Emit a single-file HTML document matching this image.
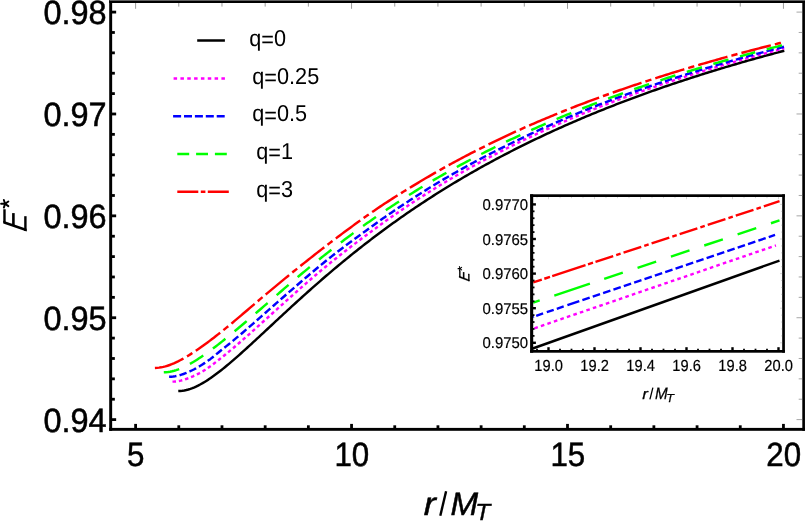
<!DOCTYPE html>
<html><head><meta charset="utf-8"><title>E* vs r/M_T</title>
<style>
html,body{margin:0;padding:0;background:#ffffff;}
body{width:806px;height:521px;overflow:hidden;position:relative;font-family:"Liberation Sans",sans-serif;}
</style></head>
<body>
<svg width="806" height="521" viewBox="0 0 806 521" text-rendering="geometricPrecision" style="position:absolute;left:0;top:0;display:block;will-change:transform">
<rect x="0" y="0" width="806" height="521" fill="#ffffff"/>
<g fill="none" stroke-width="2.45" stroke-linecap="butt" stroke-linejoin="round">
<path d="M178.27 390.98 L180.30 390.94 L182.33 390.77 L184.35 390.46 L186.38 390.04 L188.41 389.50 L190.43 388.85 L192.46 388.11 L194.49 387.28 L196.51 386.36 L198.54 385.36 L200.57 384.29 L202.59 383.15 L204.62 381.94 L206.65 380.68 L208.68 379.36 L210.70 377.98 L212.73 376.56 L214.76 375.10 L216.78 373.59 L218.81 372.05 L220.84 370.47 L222.86 368.86 L224.89 367.22 L226.92 365.55 L228.94 363.86 L230.97 362.14 L233.00 360.40 L235.02 358.64 L237.05 356.86 L239.08 355.07 L241.11 353.26 L243.13 351.44 L245.16 349.61 L247.19 347.77 L249.21 345.92 L251.24 344.06 L253.27 342.19 L255.29 340.32 L257.32 338.44 L259.35 336.56 L261.37 334.68 L263.40 332.79 L265.43 330.90 L267.46 329.01 L269.48 327.12 L271.51 325.23 L273.54 323.34 L275.56 321.45 L277.59 319.56 L279.62 317.68 L281.64 315.80 L283.67 313.92 L285.70 312.05 L287.72 310.18 L289.75 308.31 L291.78 306.45 L293.80 304.60 L295.83 302.75 L297.86 300.90 L299.89 299.06 L301.91 297.23 L303.94 295.41 L305.97 293.59 L307.99 291.78 L310.02 289.97 L312.05 288.17 L314.07 286.38 L316.10 284.60 L318.13 282.82 L320.15 281.06 L322.18 279.30 L324.21 277.55 L326.24 275.80 L328.26 274.07 L330.29 272.34 L332.32 270.62 L334.34 268.91 L336.37 267.21 L338.40 265.52 L340.42 263.83 L342.45 262.15 L344.48 260.49 L346.50 258.83 L348.53 257.18 L350.56 255.54 L352.58 253.90 L354.61 252.28 L356.64 250.67 L358.67 249.06 L360.69 247.46 L362.72 245.87 L364.75 244.29 L366.77 242.72 L368.80 241.16 L370.83 239.61 L372.85 238.06 L374.88 236.52 L376.91 235.00 L378.93 233.48 L380.96 231.97 L382.99 230.47 L385.02 228.97 L387.04 227.49 L389.07 226.01 L391.10 224.55 L393.12 223.09 L395.15 221.64 L397.18 220.20 L399.20 218.76 L401.23 217.34 L403.26 215.92 L405.28 214.51 L407.31 213.11 L409.34 211.72 L411.36 210.33 L413.39 208.96 L415.42 207.59 L417.45 206.23 L419.47 204.88 L421.50 203.53 L423.53 202.20 L425.55 200.87 L427.58 199.55 L429.61 198.23 L431.63 196.93 L433.66 195.63 L435.69 194.34 L437.71 193.06 L439.74 191.78 L441.77 190.52 L443.80 189.26 L445.82 188.00 L447.85 186.76 L449.88 185.52 L451.90 184.29 L453.93 183.07 L455.96 181.85 L457.98 180.64 L460.01 179.44 L462.04 178.24 L464.06 177.05 L466.09 175.87 L468.12 174.70 L470.14 173.53 L472.17 172.37 L474.20 171.21 L476.23 170.06 L478.25 168.92 L480.28 167.79 L482.31 166.66 L484.33 165.54 L486.36 164.42 L488.39 163.31 L490.41 162.21 L492.44 161.11 L494.47 160.02 L496.49 158.94 L498.52 157.86 L500.55 156.79 L502.58 155.72 L504.60 154.66 L506.63 153.61 L508.66 152.56 L510.68 151.52 L512.71 150.48 L514.74 149.45 L516.76 148.43 L518.79 147.41 L520.82 146.40 L522.84 145.39 L524.87 144.39 L526.90 143.39 L528.92 142.40 L530.95 141.41 L532.98 140.43 L535.01 139.46 L537.03 138.49 L539.06 137.53 L541.09 136.57 L543.11 135.62 L545.14 134.67 L547.17 133.72 L549.19 132.79 L551.22 131.85 L553.25 130.93 L555.27 130.00 L557.30 129.09 L559.33 128.17 L561.36 127.26 L563.38 126.36 L565.41 125.46 L567.44 124.57 L569.46 123.68 L571.49 122.80 L573.52 121.92 L575.54 121.04 L577.57 120.17 L579.60 119.31 L581.62 118.45 L583.65 117.59 L585.68 116.74 L587.70 115.89 L589.73 115.05 L591.76 114.21 L593.79 113.38 L595.81 112.55 L597.84 111.72 L599.87 110.90 L601.89 110.08 L603.92 109.27 L605.95 108.46 L607.97 107.66 L610.00 106.86 L612.03 106.06 L614.05 105.27 L616.08 104.48 L618.11 103.70 L620.14 102.92 L622.16 102.14 L624.19 101.37 L626.22 100.60 L628.24 99.83 L630.27 99.07 L632.30 98.32 L634.32 97.56 L636.35 96.81 L638.38 96.07 L640.40 95.33 L642.43 94.59 L644.46 93.85 L646.48 93.12 L648.51 92.40 L650.54 91.67 L652.57 90.95 L654.59 90.24 L656.62 89.52 L658.65 88.81 L660.67 88.11 L662.70 87.40 L664.73 86.70 L666.75 86.01 L668.78 85.32 L670.81 84.63 L672.83 83.94 L674.86 83.26 L676.89 82.58 L678.92 81.90 L680.94 81.23 L682.97 80.56 L685.00 79.89 L687.02 79.23 L689.05 78.57 L691.08 77.91 L693.10 77.26 L695.13 76.61 L697.16 75.96 L699.18 75.31 L701.21 74.67 L703.24 74.03 L705.26 73.40 L707.29 72.76 L709.32 72.13 L711.35 71.51 L713.37 70.88 L715.40 70.26 L717.43 69.64 L719.45 69.03 L721.48 68.41 L723.51 67.80 L725.53 67.20 L727.56 66.59 L729.59 65.99 L731.61 65.39 L733.64 64.79 L735.67 64.20 L737.70 63.61 L739.72 63.02 L741.75 62.44 L743.78 61.85 L745.80 61.27 L747.83 60.69 L749.86 60.12 L751.88 59.55 L753.91 58.98 L755.94 58.41 L757.96 57.84 L759.99 57.28 L762.02 56.72 L764.04 56.16 L766.07 55.61 L768.10 55.05 L770.13 54.50 L772.15 53.96 L774.18 53.41 L776.21 52.87 L778.23 52.33 L780.26 51.79 L782.29 51.25 L784.31 50.72" stroke="#000000"/>
<path d="M172.50 381.63 L174.55 381.57 L176.59 381.37 L178.64 381.06 L180.68 380.64 L182.73 380.11 L184.78 379.49 L186.82 378.77 L188.87 377.99 L190.92 377.16 L192.96 376.29 L195.01 375.36 L197.05 374.38 L199.10 373.33 L201.15 372.21 L203.19 371.02 L205.24 369.74 L207.29 368.39 L209.33 366.97 L211.38 365.49 L213.42 363.97 L215.47 362.40 L217.52 360.81 L219.56 359.20 L221.61 357.58 L223.66 355.95 L225.70 354.30 L227.75 352.62 L229.79 350.93 L231.84 349.22 L233.89 347.49 L235.93 345.75 L237.98 344.00 L240.02 342.23 L242.07 340.45 L244.12 338.66 L246.16 336.87 L248.21 335.06 L250.26 333.25 L252.30 331.43 L254.35 329.60 L256.39 327.77 L258.44 325.94 L260.49 324.10 L262.53 322.26 L264.58 320.41 L266.63 318.57 L268.67 316.72 L270.72 314.87 L272.76 313.02 L274.81 311.18 L276.86 309.33 L278.90 307.48 L280.95 305.64 L282.99 303.80 L285.04 301.96 L287.09 300.12 L289.13 298.29 L291.18 296.47 L293.23 294.65 L295.27 292.83 L297.32 291.02 L299.36 289.21 L301.41 287.41 L303.46 285.62 L305.50 283.84 L307.55 282.06 L309.60 280.29 L311.64 278.53 L313.69 276.77 L315.73 275.03 L317.78 273.29 L319.83 271.56 L321.87 269.84 L323.92 268.13 L325.96 266.44 L328.01 264.76 L330.06 263.09 L332.10 261.44 L334.15 259.80 L336.20 258.17 L338.24 256.55 L340.29 254.94 L342.33 253.34 L344.38 251.74 L346.43 250.16 L348.47 248.59 L350.52 247.02 L352.57 245.46 L354.61 243.90 L356.66 242.36 L358.70 240.81 L360.75 239.28 L362.80 237.74 L364.84 236.21 L366.89 234.69 L368.94 233.16 L370.98 231.65 L373.03 230.14 L375.07 228.64 L377.12 227.15 L379.17 225.67 L381.21 224.19 L383.26 222.73 L385.30 221.27 L387.35 219.82 L389.40 218.38 L391.44 216.95 L393.49 215.53 L395.54 214.12 L397.58 212.71 L399.63 211.31 L401.67 209.92 L403.72 208.54 L405.77 207.17 L407.81 205.80 L409.86 204.44 L411.91 203.09 L413.95 201.74 L416.00 200.40 L418.04 199.07 L420.09 197.75 L422.14 196.43 L424.18 195.12 L426.23 193.82 L428.27 192.53 L430.32 191.24 L432.37 189.96 L434.41 188.70 L436.46 187.43 L438.51 186.18 L440.55 184.94 L442.60 183.70 L444.64 182.47 L446.69 181.25 L448.74 180.03 L450.78 178.82 L452.83 177.62 L454.88 176.43 L456.92 175.24 L458.97 174.06 L461.01 172.89 L463.06 171.73 L465.11 170.57 L467.15 169.42 L469.20 168.27 L471.25 167.13 L473.29 166.00 L475.34 164.88 L477.38 163.76 L479.43 162.65 L481.48 161.54 L483.52 160.44 L485.57 159.35 L487.61 158.26 L489.66 157.18 L491.71 156.10 L493.75 155.03 L495.80 153.97 L497.85 152.91 L499.89 151.86 L501.94 150.82 L503.98 149.78 L506.03 148.74 L508.08 147.71 L510.12 146.69 L512.17 145.67 L514.22 144.66 L516.26 143.66 L518.31 142.66 L520.35 141.66 L522.40 140.67 L524.45 139.69 L526.49 138.71 L528.54 137.74 L530.58 136.77 L532.63 135.80 L534.68 134.85 L536.72 133.89 L538.77 132.94 L540.82 132.00 L542.86 131.06 L544.91 130.13 L546.95 129.20 L549.00 128.28 L551.05 127.36 L553.09 126.44 L555.14 125.53 L557.19 124.63 L559.23 123.73 L561.28 122.84 L563.32 121.95 L565.37 121.06 L567.42 120.18 L569.46 119.31 L571.51 118.43 L573.56 117.57 L575.60 116.71 L577.65 115.85 L579.69 115.00 L581.74 114.15 L583.79 113.31 L585.83 112.47 L587.88 111.64 L589.92 110.81 L591.97 109.98 L594.02 109.17 L596.06 108.35 L598.11 107.54 L600.16 106.73 L602.20 105.93 L604.25 105.14 L606.29 104.34 L608.34 103.55 L610.39 102.77 L612.43 101.99 L614.48 101.22 L616.53 100.45 L618.57 99.68 L620.62 98.92 L622.66 98.16 L624.71 97.41 L626.76 96.66 L628.80 95.91 L630.85 95.17 L632.89 94.43 L634.94 93.70 L636.99 92.97 L639.03 92.24 L641.08 91.52 L643.13 90.79 L645.17 90.08 L647.22 89.36 L649.26 88.65 L651.31 87.95 L653.36 87.24 L655.40 86.54 L657.45 85.85 L659.50 85.15 L661.54 84.46 L663.59 83.78 L665.63 83.09 L667.68 82.41 L669.73 81.74 L671.77 81.06 L673.82 80.39 L675.87 79.72 L677.91 79.06 L679.96 78.40 L682.00 77.74 L684.05 77.08 L686.10 76.43 L688.14 75.78 L690.19 75.13 L692.23 74.49 L694.28 73.85 L696.33 73.21 L698.37 72.58 L700.42 71.95 L702.47 71.32 L704.51 70.69 L706.56 70.07 L708.60 69.45 L710.65 68.83 L712.70 68.21 L714.74 67.60 L716.79 66.99 L718.84 66.39 L720.88 65.78 L722.93 65.18 L724.97 64.59 L727.02 63.99 L729.07 63.40 L731.11 62.81 L733.16 62.22 L735.20 61.63 L737.25 61.05 L739.30 60.47 L741.34 59.90 L743.39 59.32 L745.44 58.75 L747.48 58.18 L749.53 57.61 L751.57 57.05 L753.62 56.49 L755.67 55.93 L757.71 55.37 L759.76 54.82 L761.81 54.26 L763.85 53.71 L765.90 53.17 L767.94 52.62 L769.99 52.08 L772.04 51.54 L774.08 51.00 L776.13 50.47 L778.18 49.93 L780.22 49.40 L782.27 48.87 L784.31 48.35" stroke="#ff00ff" stroke-dasharray="3.5 2.9"/>
<path d="M169.10 376.72 L171.16 376.66 L173.22 376.47 L175.27 376.17 L177.33 375.76 L179.39 375.26 L181.45 374.66 L183.50 373.98 L185.56 373.22 L187.62 372.38 L189.68 371.48 L191.73 370.51 L193.79 369.48 L195.85 368.38 L197.91 367.21 L199.96 365.99 L202.02 364.72 L204.08 363.39 L206.14 362.02 L208.19 360.60 L210.25 359.13 L212.31 357.54 L214.37 355.87 L216.42 354.16 L218.48 352.44 L220.54 350.75 L222.60 349.13 L224.65 347.52 L226.71 345.88 L228.77 344.22 L230.83 342.55 L232.88 340.86 L234.94 339.15 L237.00 337.43 L239.06 335.70 L241.11 333.96 L243.17 332.20 L245.23 330.44 L247.29 328.67 L249.35 326.89 L251.40 325.11 L253.46 323.32 L255.52 321.52 L257.58 319.73 L259.63 317.92 L261.69 316.12 L263.75 314.31 L265.81 312.50 L267.86 310.69 L269.92 308.88 L271.98 307.07 L274.04 305.26 L276.09 303.45 L278.15 301.64 L280.21 299.84 L282.27 298.03 L284.32 296.23 L286.38 294.43 L288.44 292.64 L290.50 290.84 L292.55 289.06 L294.61 287.28 L296.67 285.50 L298.73 283.73 L300.78 281.96 L302.84 280.20 L304.90 278.44 L306.96 276.70 L309.01 274.95 L311.07 273.22 L313.13 271.49 L315.19 269.76 L317.25 268.05 L319.30 266.34 L321.36 264.64 L323.42 262.95 L325.48 261.28 L327.53 259.62 L329.59 257.98 L331.65 256.35 L333.71 254.74 L335.76 253.14 L337.82 251.56 L339.88 249.98 L341.94 248.42 L343.99 246.86 L346.05 245.32 L348.11 243.78 L350.17 242.25 L352.22 240.72 L354.28 239.20 L356.34 237.69 L358.40 236.18 L360.45 234.67 L362.51 233.17 L364.57 231.66 L366.63 230.16 L368.68 228.66 L370.74 227.16 L372.80 225.67 L374.86 224.19 L376.91 222.72 L378.97 221.26 L381.03 219.81 L383.09 218.36 L385.14 216.93 L387.20 215.50 L389.26 214.08 L391.32 212.67 L393.38 211.27 L395.43 209.87 L397.49 208.49 L399.55 207.11 L401.61 205.74 L403.66 204.38 L405.72 203.02 L407.78 201.67 L409.84 200.33 L411.89 199.00 L413.95 197.67 L416.01 196.35 L418.07 195.04 L420.12 193.73 L422.18 192.43 L424.24 191.14 L426.30 189.85 L428.35 188.58 L430.41 187.31 L432.47 186.05 L434.53 184.80 L436.58 183.56 L438.64 182.32 L440.70 181.10 L442.76 179.88 L444.81 178.67 L446.87 177.47 L448.93 176.27 L450.99 175.09 L453.04 173.91 L455.10 172.73 L457.16 171.57 L459.22 170.41 L461.28 169.26 L463.33 168.12 L465.39 166.98 L467.45 165.85 L469.51 164.73 L471.56 163.61 L473.62 162.50 L475.68 161.40 L477.74 160.30 L479.79 159.21 L481.85 158.12 L483.91 157.04 L485.97 155.97 L488.02 154.90 L490.08 153.83 L492.14 152.78 L494.20 151.73 L496.25 150.68 L498.31 149.64 L500.37 148.61 L502.43 147.58 L504.48 146.55 L506.54 145.53 L508.60 144.52 L510.66 143.51 L512.71 142.51 L514.77 141.51 L516.83 140.52 L518.89 139.53 L520.94 138.55 L523.00 137.57 L525.06 136.60 L527.12 135.63 L529.17 134.67 L531.23 133.71 L533.29 132.76 L535.35 131.81 L537.41 130.86 L539.46 129.92 L541.52 128.99 L543.58 128.06 L545.64 127.13 L547.69 126.21 L549.75 125.29 L551.81 124.38 L553.87 123.47 L555.92 122.57 L557.98 121.67 L560.04 120.77 L562.10 119.88 L564.15 119.00 L566.21 118.12 L568.27 117.24 L570.33 116.37 L572.38 115.51 L574.44 114.65 L576.50 113.79 L578.56 112.94 L580.61 112.09 L582.67 111.25 L584.73 110.41 L586.79 109.58 L588.84 108.75 L590.90 107.93 L592.96 107.11 L595.02 106.30 L597.07 105.49 L599.13 104.69 L601.19 103.89 L603.25 103.09 L605.31 102.30 L607.36 101.52 L609.42 100.74 L611.48 99.96 L613.54 99.19 L615.59 98.43 L617.65 97.67 L619.71 96.91 L621.77 96.16 L623.82 95.41 L625.88 94.67 L627.94 93.93 L630.00 93.19 L632.05 92.46 L634.11 91.73 L636.17 91.01 L638.23 90.29 L640.28 89.57 L642.34 88.86 L644.40 88.14 L646.46 87.44 L648.51 86.73 L650.57 86.03 L652.63 85.33 L654.69 84.64 L656.74 83.95 L658.80 83.26 L660.86 82.58 L662.92 81.90 L664.97 81.22 L667.03 80.54 L669.09 79.87 L671.15 79.20 L673.20 78.53 L675.26 77.87 L677.32 77.21 L679.38 76.55 L681.44 75.90 L683.49 75.25 L685.55 74.60 L687.61 73.96 L689.67 73.31 L691.72 72.68 L693.78 72.04 L695.84 71.40 L697.90 70.77 L699.95 70.15 L702.01 69.52 L704.07 68.90 L706.13 68.28 L708.18 67.66 L710.24 67.05 L712.30 66.44 L714.36 65.83 L716.41 65.22 L718.47 64.62 L720.53 64.02 L722.59 63.42 L724.64 62.83 L726.70 62.24 L728.76 61.65 L730.82 61.06 L732.87 60.48 L734.93 59.89 L736.99 59.32 L739.05 58.74 L741.10 58.16 L743.16 57.59 L745.22 57.02 L747.28 56.46 L749.34 55.89 L751.39 55.33 L753.45 54.77 L755.51 54.22 L757.57 53.66 L759.62 53.11 L761.68 52.56 L763.74 52.02 L765.80 51.47 L767.85 50.93 L769.91 50.39 L771.97 49.85 L774.03 49.32 L776.08 48.78 L778.14 48.25 L780.20 47.73 L782.26 47.20 L784.31 46.68" stroke="#0000ff" stroke-dasharray="7.4 3.2"/>
<path d="M163.80 372.26 L165.88 372.20 L167.95 372.00 L170.03 371.69 L172.10 371.25 L174.18 370.72 L176.25 370.08 L178.33 369.35 L180.40 368.54 L182.48 367.65 L184.55 366.69 L186.63 365.66 L188.70 364.57 L190.78 363.43 L192.85 362.23 L194.93 360.98 L197.00 359.68 L199.08 358.34 L201.16 356.97 L203.23 355.55 L205.31 354.11 L207.38 352.63 L209.46 351.12 L211.53 349.59 L213.61 348.03 L215.68 346.45 L217.76 344.85 L219.83 343.23 L221.91 341.59 L223.98 339.94 L226.06 338.27 L228.13 336.58 L230.21 334.89 L232.28 333.18 L234.36 331.46 L236.44 329.73 L238.51 327.99 L240.59 326.24 L242.66 324.48 L244.74 322.72 L246.81 320.95 L248.89 319.18 L250.96 317.40 L253.04 315.62 L255.11 313.83 L257.19 312.04 L259.26 310.25 L261.34 308.45 L263.41 306.65 L265.49 304.85 L267.56 303.05 L269.64 301.25 L271.72 299.45 L273.79 297.65 L275.87 295.85 L277.94 294.05 L280.02 292.25 L282.09 290.46 L284.17 288.67 L286.24 286.89 L288.32 285.11 L290.39 283.33 L292.47 281.56 L294.54 279.80 L296.62 278.04 L298.69 276.29 L300.77 274.55 L302.84 272.81 L304.92 271.08 L307.00 269.36 L309.07 267.65 L311.15 265.95 L313.22 264.25 L315.30 262.57 L317.37 260.89 L319.45 259.22 L321.52 257.56 L323.60 255.90 L325.67 254.26 L327.75 252.62 L329.82 251.00 L331.90 249.38 L333.97 247.77 L336.05 246.16 L338.12 244.57 L340.20 242.98 L342.28 241.41 L344.35 239.84 L346.43 238.28 L348.50 236.72 L350.58 235.18 L352.65 233.64 L354.73 232.11 L356.80 230.60 L358.88 229.08 L360.95 227.58 L363.03 226.09 L365.10 224.60 L367.18 223.12 L369.25 221.65 L371.33 220.19 L373.40 218.73 L375.48 217.29 L377.56 215.85 L379.63 214.42 L381.71 213.00 L383.78 211.59 L385.86 210.19 L387.93 208.79 L390.01 207.40 L392.08 206.02 L394.16 204.65 L396.23 203.29 L398.31 201.93 L400.38 200.59 L402.46 199.25 L404.53 197.92 L406.61 196.59 L408.69 195.28 L410.76 193.97 L412.84 192.67 L414.91 191.38 L416.99 190.10 L419.06 188.83 L421.14 187.56 L423.21 186.30 L425.29 185.05 L427.36 183.81 L429.44 182.57 L431.51 181.35 L433.59 180.13 L435.66 178.91 L437.74 177.71 L439.81 176.51 L441.89 175.32 L443.97 174.14 L446.04 172.96 L448.12 171.80 L450.19 170.64 L452.27 169.48 L454.34 168.34 L456.42 167.20 L458.49 166.07 L460.57 164.94 L462.64 163.82 L464.72 162.71 L466.79 161.60 L468.87 160.50 L470.94 159.41 L473.02 158.32 L475.09 157.24 L477.17 156.17 L479.25 155.10 L481.32 154.03 L483.40 152.98 L485.47 151.92 L487.55 150.88 L489.62 149.84 L491.70 148.80 L493.77 147.77 L495.85 146.75 L497.92 145.73 L500.00 144.72 L502.07 143.71 L504.15 142.71 L506.22 141.71 L508.30 140.72 L510.37 139.73 L512.45 138.75 L514.53 137.78 L516.60 136.81 L518.68 135.84 L520.75 134.88 L522.83 133.92 L524.90 132.97 L526.98 132.03 L529.05 131.08 L531.13 130.15 L533.20 129.22 L535.28 128.29 L537.35 127.37 L539.43 126.45 L541.50 125.54 L543.58 124.63 L545.65 123.73 L547.73 122.83 L549.81 121.94 L551.88 121.05 L553.96 120.17 L556.03 119.29 L558.11 118.42 L560.18 117.55 L562.26 116.68 L564.33 115.82 L566.41 114.96 L568.48 114.11 L570.56 113.26 L572.63 112.42 L574.71 111.58 L576.78 110.74 L578.86 109.91 L580.93 109.09 L583.01 108.26 L585.09 107.45 L587.16 106.63 L589.24 105.82 L591.31 105.01 L593.39 104.21 L595.46 103.41 L597.54 102.62 L599.61 101.83 L601.69 101.04 L603.76 100.26 L605.84 99.48 L607.91 98.70 L609.99 97.93 L612.06 97.16 L614.14 96.40 L616.21 95.64 L618.29 94.88 L620.37 94.13 L622.44 93.38 L624.52 92.63 L626.59 91.89 L628.67 91.15 L630.74 90.42 L632.82 89.69 L634.89 88.96 L636.97 88.24 L639.04 87.51 L641.12 86.80 L643.19 86.08 L645.27 85.37 L647.34 84.67 L649.42 83.96 L651.49 83.26 L653.57 82.57 L655.65 81.88 L657.72 81.19 L659.80 80.50 L661.87 79.82 L663.95 79.14 L666.02 78.46 L668.10 77.79 L670.17 77.12 L672.25 76.45 L674.32 75.79 L676.40 75.13 L678.47 74.48 L680.55 73.82 L682.62 73.17 L684.70 72.53 L686.77 71.88 L688.85 71.24 L690.93 70.60 L693.00 69.97 L695.08 69.34 L697.15 68.71 L699.23 68.08 L701.30 67.46 L703.38 66.84 L705.45 66.23 L707.53 65.61 L709.60 65.00 L711.68 64.39 L713.75 63.79 L715.83 63.18 L717.90 62.58 L719.98 61.99 L722.05 61.39 L724.13 60.80 L726.21 60.21 L728.28 59.63 L730.36 59.04 L732.43 58.46 L734.51 57.88 L736.58 57.31 L738.66 56.74 L740.73 56.17 L742.81 55.60 L744.88 55.03 L746.96 54.47 L749.03 53.91 L751.11 53.35 L753.18 52.80 L755.26 52.24 L757.33 51.69 L759.41 51.15 L761.49 50.60 L763.56 50.06 L765.64 49.52 L767.71 48.98 L769.79 48.44 L771.86 47.91 L773.94 47.38 L776.01 46.85 L778.09 46.32 L780.16 45.80 L782.24 45.27 L784.31 44.75" stroke="#00ff00" stroke-dasharray="15.8 11.9"/>
<path d="M154.90 367.92 L157.01 367.85 L159.11 367.65 L161.22 367.33 L163.32 366.90 L165.43 366.36 L167.53 365.72 L169.64 365.00 L171.74 364.20 L173.85 363.32 L175.95 362.37 L178.06 361.36 L180.16 360.28 L182.27 359.15 L184.37 357.97 L186.48 356.74 L188.58 355.47 L190.69 354.15 L192.79 352.80 L194.90 351.41 L197.00 349.99 L199.11 348.53 L201.21 347.05 L203.32 345.54 L205.42 344.01 L207.53 342.46 L209.63 340.88 L211.74 339.28 L213.84 337.67 L215.95 336.03 L218.05 334.39 L220.16 332.73 L222.26 331.05 L224.37 329.36 L226.47 327.65 L228.58 325.93 L230.68 324.19 L232.79 322.44 L234.89 320.68 L237.00 318.91 L239.10 317.13 L241.21 315.34 L243.31 313.55 L245.42 311.75 L247.52 309.96 L249.63 308.16 L251.73 306.36 L253.84 304.56 L255.94 302.76 L258.05 300.96 L260.15 299.17 L262.26 297.39 L264.36 295.61 L266.47 293.84 L268.57 292.08 L270.68 290.33 L272.78 288.58 L274.89 286.83 L276.99 285.09 L279.10 283.35 L281.20 281.61 L283.31 279.88 L285.41 278.15 L287.52 276.43 L289.62 274.71 L291.73 273.00 L293.83 271.29 L295.94 269.59 L298.04 267.90 L300.15 266.21 L302.25 264.52 L304.36 262.84 L306.46 261.17 L308.57 259.50 L310.67 257.84 L312.78 256.18 L314.88 254.53 L316.99 252.88 L319.09 251.25 L321.20 249.61 L323.31 247.99 L325.41 246.37 L327.52 244.75 L329.62 243.14 L331.73 241.54 L333.83 239.95 L335.94 238.36 L338.04 236.77 L340.15 235.20 L342.25 233.63 L344.36 232.06 L346.46 230.50 L348.57 228.95 L350.67 227.41 L352.78 225.87 L354.88 224.34 L356.99 222.81 L359.09 221.30 L361.20 219.79 L363.30 218.29 L365.41 216.79 L367.51 215.31 L369.62 213.83 L371.72 212.36 L373.83 210.91 L375.93 209.48 L378.04 208.05 L380.14 206.64 L382.25 205.24 L384.35 203.85 L386.46 202.47 L388.56 201.10 L390.67 199.75 L392.77 198.40 L394.88 197.06 L396.98 195.74 L399.09 194.42 L401.19 193.10 L403.30 191.80 L405.40 190.50 L407.51 189.21 L409.61 187.93 L411.72 186.65 L413.82 185.37 L415.93 184.10 L418.03 182.83 L420.14 181.57 L422.24 180.31 L424.35 179.06 L426.45 177.81 L428.56 176.58 L430.66 175.35 L432.77 174.13 L434.87 172.92 L436.98 171.72 L439.08 170.52 L441.19 169.33 L443.29 168.15 L445.40 166.98 L447.50 165.81 L449.61 164.65 L451.71 163.50 L453.82 162.36 L455.92 161.22 L458.03 160.09 L460.13 158.97 L462.24 157.85 L464.34 156.74 L466.45 155.64 L468.55 154.54 L470.66 153.45 L472.76 152.37 L474.87 151.29 L476.97 150.22 L479.08 149.15 L481.18 148.10 L483.29 147.04 L485.39 146.00 L487.50 144.96 L489.60 143.92 L491.71 142.90 L493.82 141.87 L495.92 140.86 L498.03 139.85 L500.13 138.84 L502.24 137.84 L504.34 136.85 L506.45 135.86 L508.55 134.88 L510.66 133.91 L512.76 132.94 L514.87 131.97 L516.97 131.01 L519.08 130.06 L521.18 129.11 L523.29 128.17 L525.39 127.23 L527.50 126.30 L529.60 125.37 L531.71 124.45 L533.81 123.53 L535.92 122.62 L538.02 121.71 L540.13 120.81 L542.23 119.92 L544.34 119.03 L546.44 118.14 L548.55 117.26 L550.65 116.39 L552.76 115.52 L554.86 114.65 L556.97 113.79 L559.07 112.93 L561.18 112.08 L563.28 111.24 L565.39 110.39 L567.49 109.56 L569.60 108.72 L571.70 107.90 L573.81 107.07 L575.91 106.25 L578.02 105.44 L580.12 104.63 L582.23 103.82 L584.33 103.02 L586.44 102.23 L588.54 101.43 L590.65 100.64 L592.75 99.86 L594.86 99.08 L596.96 98.30 L599.07 97.53 L601.17 96.76 L603.28 96.00 L605.38 95.24 L607.49 94.49 L609.59 93.73 L611.70 92.99 L613.80 92.24 L615.91 91.50 L618.01 90.76 L620.12 90.03 L622.22 89.30 L624.33 88.58 L626.43 87.85 L628.54 87.14 L630.64 86.42 L632.75 85.71 L634.85 85.00 L636.96 84.30 L639.06 83.59 L641.17 82.90 L643.27 82.20 L645.38 81.51 L647.48 80.82 L649.59 80.13 L651.69 79.45 L653.80 78.77 L655.90 78.09 L658.01 77.42 L660.12 76.75 L662.22 76.08 L664.33 75.42 L666.43 74.75 L668.54 74.09 L670.64 73.44 L672.75 72.78 L674.85 72.13 L676.96 71.49 L679.06 70.84 L681.17 70.20 L683.27 69.56 L685.38 68.92 L687.48 68.29 L689.59 67.66 L691.69 67.03 L693.80 66.41 L695.90 65.78 L698.01 65.16 L700.11 64.55 L702.22 63.93 L704.32 63.32 L706.43 62.71 L708.53 62.11 L710.64 61.50 L712.74 60.90 L714.85 60.31 L716.95 59.71 L719.06 59.12 L721.16 58.53 L723.27 57.94 L725.37 57.36 L727.48 56.77 L729.58 56.19 L731.69 55.62 L733.79 55.04 L735.90 54.47 L738.00 53.90 L740.11 53.34 L742.21 52.77 L744.32 52.21 L746.42 51.65 L748.53 51.09 L750.63 50.54 L752.74 49.99 L754.84 49.44 L756.95 48.89 L759.05 48.35 L761.16 47.80 L763.26 47.26 L765.37 46.73 L767.47 46.19 L769.58 45.66 L771.68 45.13 L773.79 44.60 L775.89 44.07 L778.00 43.55 L780.10 43.03 L782.21 42.51 L784.31 41.99" stroke="#ff0000" stroke-dasharray="30.4 4.1 6.3 4.1"/>
</g>
<g fill="#000">
<rect x="109.20" y="0.00" width="2.95" height="430.80"/>
<rect x="802.30" y="0.00" width="2.65" height="430.80"/>
<rect x="109.20" y="0.00" width="695.75" height="3.00"/>
<rect x="109.20" y="427.90" width="695.75" height="2.90"/>
</g>
<rect x="109.50" y="0" width="695.45" height="1" fill="#606060"/>
<g stroke="#000" stroke-width="2.8">
<line x1="111.15" y1="419.60" x2="116.15" y2="419.60"/>
<line x1="111.15" y1="399.23" x2="114.85" y2="399.23"/>
<line x1="111.15" y1="378.85" x2="114.85" y2="378.85"/>
<line x1="111.15" y1="358.48" x2="114.85" y2="358.48"/>
<line x1="111.15" y1="338.10" x2="114.85" y2="338.10"/>
<line x1="111.15" y1="317.73" x2="116.15" y2="317.73"/>
<line x1="111.15" y1="297.35" x2="114.85" y2="297.35"/>
<line x1="111.15" y1="276.98" x2="114.85" y2="276.98"/>
<line x1="111.15" y1="256.60" x2="114.85" y2="256.60"/>
<line x1="111.15" y1="236.23" x2="114.85" y2="236.23"/>
<line x1="111.15" y1="215.85" x2="116.15" y2="215.85"/>
<line x1="111.15" y1="195.48" x2="114.85" y2="195.48"/>
<line x1="111.15" y1="175.10" x2="114.85" y2="175.10"/>
<line x1="111.15" y1="154.73" x2="114.85" y2="154.73"/>
<line x1="111.15" y1="134.35" x2="114.85" y2="134.35"/>
<line x1="111.15" y1="113.98" x2="116.15" y2="113.98"/>
<line x1="111.15" y1="93.60" x2="114.85" y2="93.60"/>
<line x1="111.15" y1="73.23" x2="114.85" y2="73.23"/>
<line x1="111.15" y1="52.85" x2="114.85" y2="52.85"/>
<line x1="111.15" y1="32.48" x2="114.85" y2="32.48"/>
<line x1="111.15" y1="12.10" x2="116.15" y2="12.10"/>
<line x1="135.60" y1="428.90" x2="135.60" y2="423.90"/>
<line x1="178.79" y1="428.90" x2="178.79" y2="425.30"/>
<line x1="221.98" y1="428.90" x2="221.98" y2="425.30"/>
<line x1="265.17" y1="428.90" x2="265.17" y2="425.30"/>
<line x1="308.36" y1="428.90" x2="308.36" y2="425.30"/>
<line x1="351.55" y1="428.90" x2="351.55" y2="423.90"/>
<line x1="394.74" y1="428.90" x2="394.74" y2="425.30"/>
<line x1="437.93" y1="428.90" x2="437.93" y2="425.30"/>
<line x1="481.12" y1="428.90" x2="481.12" y2="425.30"/>
<line x1="524.31" y1="428.90" x2="524.31" y2="425.30"/>
<line x1="567.50" y1="428.90" x2="567.50" y2="423.90"/>
<line x1="610.69" y1="428.90" x2="610.69" y2="425.30"/>
<line x1="653.88" y1="428.90" x2="653.88" y2="425.30"/>
<line x1="697.07" y1="428.90" x2="697.07" y2="425.30"/>
<line x1="740.26" y1="428.90" x2="740.26" y2="425.30"/>
<line x1="783.45" y1="428.90" x2="783.45" y2="423.90"/>
</g>
<g stroke="#555" stroke-width="0.6">
<line x1="135.60" y1="3.00" x2="135.60" y2="8.80"/>
<line x1="178.79" y1="3.00" x2="178.79" y2="6.60"/>
<line x1="221.98" y1="3.00" x2="221.98" y2="6.60"/>
<line x1="265.17" y1="3.00" x2="265.17" y2="6.60"/>
<line x1="308.36" y1="3.00" x2="308.36" y2="6.60"/>
<line x1="351.55" y1="3.00" x2="351.55" y2="8.80"/>
<line x1="394.74" y1="3.00" x2="394.74" y2="6.60"/>
<line x1="437.93" y1="3.00" x2="437.93" y2="6.60"/>
<line x1="481.12" y1="3.00" x2="481.12" y2="6.60"/>
<line x1="524.31" y1="3.00" x2="524.31" y2="6.60"/>
<line x1="567.50" y1="3.00" x2="567.50" y2="8.80"/>
<line x1="610.69" y1="3.00" x2="610.69" y2="6.60"/>
<line x1="653.88" y1="3.00" x2="653.88" y2="6.60"/>
<line x1="697.07" y1="3.00" x2="697.07" y2="6.60"/>
<line x1="740.26" y1="3.00" x2="740.26" y2="6.60"/>
<line x1="783.45" y1="3.00" x2="783.45" y2="8.80"/>
</g>
<g stroke="#6a6a6a" stroke-width="0.6">
<line x1="802.30" y1="419.60" x2="796.50" y2="419.60"/>
<line x1="802.30" y1="399.23" x2="798.70" y2="399.23"/>
<line x1="802.30" y1="378.85" x2="798.70" y2="378.85"/>
<line x1="802.30" y1="358.48" x2="798.70" y2="358.48"/>
<line x1="802.30" y1="338.10" x2="798.70" y2="338.10"/>
<line x1="802.30" y1="317.73" x2="796.50" y2="317.73"/>
<line x1="802.30" y1="297.35" x2="798.70" y2="297.35"/>
<line x1="802.30" y1="276.98" x2="798.70" y2="276.98"/>
<line x1="802.30" y1="256.60" x2="798.70" y2="256.60"/>
<line x1="802.30" y1="236.23" x2="798.70" y2="236.23"/>
<line x1="802.30" y1="215.85" x2="796.50" y2="215.85"/>
<line x1="802.30" y1="195.48" x2="798.70" y2="195.48"/>
<line x1="802.30" y1="175.10" x2="798.70" y2="175.10"/>
<line x1="802.30" y1="154.73" x2="798.70" y2="154.73"/>
<line x1="802.30" y1="134.35" x2="798.70" y2="134.35"/>
<line x1="802.30" y1="113.98" x2="796.50" y2="113.98"/>
<line x1="802.30" y1="93.60" x2="798.70" y2="93.60"/>
<line x1="802.30" y1="73.23" x2="798.70" y2="73.23"/>
<line x1="802.30" y1="52.85" x2="798.70" y2="52.85"/>
<line x1="802.30" y1="32.48" x2="798.70" y2="32.48"/>
<line x1="802.30" y1="12.10" x2="796.50" y2="12.10"/>
</g>
<g font-family="Liberation Sans, sans-serif" font-size="33.7" fill="#000" stroke="#000" stroke-width="0.5">
<text x="106.6" y="431.50" text-anchor="end" textLength="63.2" lengthAdjust="spacingAndGlyphs">0.94</text>
<text x="106.6" y="329.63" text-anchor="end" textLength="63.2" lengthAdjust="spacingAndGlyphs">0.95</text>
<text x="106.6" y="227.75" text-anchor="end" textLength="63.2" lengthAdjust="spacingAndGlyphs">0.96</text>
<text x="106.6" y="125.88" text-anchor="end" textLength="63.2" lengthAdjust="spacingAndGlyphs">0.97</text>
<text x="106.6" y="24.00" text-anchor="end" textLength="63.2" lengthAdjust="spacingAndGlyphs">0.98</text>
<text transform="translate(135.60,466.2) scale(0.93,1)" text-anchor="middle">5</text>
<text transform="translate(351.85,466.2) scale(0.93,1)" text-anchor="middle">10</text>
<text transform="translate(567.80,466.2) scale(0.93,1)" text-anchor="middle">15</text>
<text transform="translate(783.75,466.2) scale(0.93,1)" text-anchor="middle">20</text>
</g>
<g transform="translate(26.60,231.55) scale(1.0000,1.0000) translate(-26.6,-231.55)"><path fill="#000" d="M3.28 223.5 L26.6 231.55 L26.6 228.8 L3.28 220.75 Z"/><rect fill="#000" x="3.28" y="209.25" width="2.4" height="13.3"/><rect fill="#000" x="12.1" y="213.1" width="2.6" height="12.9"/><rect fill="#000" x="24.2" y="216.2" width="2.4" height="14.8"/><path fill="none" stroke="#000" stroke-width="1.95" stroke-linecap="round" d="M5.10 203.80 L1.10 203.80 M5.10 203.80 L3.86 200.00 M5.10 203.80 L8.34 201.45 M5.10 203.80 L8.34 206.15 M5.10 203.80 L3.86 207.60 "/></g>
<g font-family="Liberation Sans, sans-serif" fill="#000" font-style="italic">
<text transform="translate(423.7,514.7) scale(1.12,1)" font-size="32.5" stroke="#000" stroke-width="0.5">r</text>
<line x1="446.1" y1="491.3" x2="440.3" y2="515.7" stroke="#000" stroke-width="2.4"/>
<text transform="translate(450.6,514.7) scale(1.02,1)" font-size="32.5" stroke="#000" stroke-width="0.5">M</text>
<text transform="translate(475.3,520.4) scale(1.05,1)" font-size="23.4" stroke="#000" stroke-width="0.4">T</text>
</g>
<g fill="none" stroke-width="2.5">
<line x1="197.2" y1="40.5" x2="224.9" y2="40.5" stroke="#000"/>
<line x1="173.6" y1="78.4" x2="226" y2="78.4" stroke="#ff00ff" stroke-dasharray="3.5 3.33"/>
<line x1="173.1" y1="116.2" x2="226" y2="116.2" stroke="#0000ff" stroke-dasharray="8 2.9"/>
<line x1="177.3" y1="153.9" x2="228" y2="153.9" stroke="#00ff00" stroke-dasharray="11.9 6.9"/>
<line x1="177.3" y1="191.7" x2="229.1" y2="191.7" stroke="#ff0000" stroke-dasharray="21 2.5 4.6 2.4"/>
</g>
<g font-family="Liberation Sans, sans-serif" font-size="23.0" fill="#000">
<text transform="translate(249.2,45.7) scale(0.942,1)">q<tspan dy="1.2">=</tspan><tspan dy="-1.2">0</tspan></text>
<text transform="translate(252.3,83.5) scale(0.942,1)">q<tspan dy="1.2">=</tspan><tspan dy="-1.2">0.25</tspan></text>
<text transform="translate(252.3,121.3) scale(0.942,1)">q<tspan dy="1.2">=</tspan><tspan dy="-1.2">0.5</tspan></text>
<text transform="translate(256.3,159.1) scale(0.942,1)">q<tspan dy="1.2">=</tspan><tspan dy="-1.2">1</tspan></text>
<text transform="translate(256.3,196.9) scale(0.942,1)">q<tspan dy="1.2">=</tspan><tspan dy="-1.2">3</tspan></text>
</g>
<g fill="none" stroke-width="2.4">
<line x1="532.70" y1="348.50" x2="779.50" y2="260.60" stroke="#000"/>
<line x1="533.20" y1="328.70" x2="779.50" y2="244.20" stroke="#ff00ff" stroke-dasharray="0.00 1.27 3.59 3.28 3.59 3.28 3.59 3.28 3.59 3.28 3.59 3.28 3.59 3.28 3.59 3.28 3.59 3.28 3.59 3.28 3.59 3.28 3.59 3.28 3.59 3.28 3.59 3.28 3.59 3.28 3.59 3.28 3.59 3.28 3.59 3.28 3.59 3.28 3.59 3.28 3.59 3.28 3.59 3.28 3.59 3.28 3.59 3.28 3.59 3.28 3.59 3.28 3.59 3.28 3.59 3.28 3.59 3.28 3.59 3.28 3.59 3.28 3.59 3.28 3.59 3.28 3.59 3.28 3.59 3.28 3.59 3.28 3.59 3.28 3.59 3.28 1.16 999.00"/>
<line x1="533.20" y1="316.80" x2="779.50" y2="233.40" stroke="#0000ff" stroke-dasharray="0.00 0.00 0.74 2.43 7.28 3.91 7.28 3.27 7.28 3.91 12.56 3.27 7.71 3.22 7.71 3.22 7.71 3.22 7.71 3.22 7.71 3.22 7.71 3.22 7.71 3.22 7.71 3.22 7.71 3.22 7.71 3.22 7.71 3.22 7.71 3.22 7.71 3.22 7.71 3.22 7.71 3.22 7.71 3.22 7.71 3.22 7.71 3.22 6.65 999.00"/>
<line x1="533.20" y1="302.60" x2="779.50" y2="220.40" stroke="#00ff00" stroke-dasharray="0.00 0.00 6.85 15.39 37.53 15.08 19.61 15.55 19.61 15.55 19.61 15.55 19.61 15.55 19.61 15.55 9.01 999.00"/>
<line x1="533.20" y1="282.40" x2="779.50" y2="201.20" stroke="#ff0000" stroke-dasharray="0.00 0.00 9.06 2.63 6.00 2.32 35.06 2.63 5.26 2.63 18.64 3.16 4.63 3.11 18.64 3.16 4.63 3.11 18.64 3.16 4.63 3.11 18.64 3.16 4.63 3.11 18.64 3.16 4.63 3.11 18.64 3.16 4.63 3.11 16.53 999.00"/>
</g>
<g fill="#000">
<rect x="530.10" y="194.30" width="3.10" height="158.40"/>
<rect x="782.20" y="194.30" width="2.70" height="158.40"/>
<rect x="530.10" y="194.30" width="254.80" height="2.70"/>
<rect x="530.10" y="350.00" width="254.80" height="2.70"/>
</g>
<g stroke="#000">
<line x1="532.20" y1="342.80" x2="535.90" y2="342.80" stroke-width="2.4"/>
<line x1="532.20" y1="335.88" x2="534.50" y2="335.88" stroke-width="1.8"/>
<line x1="532.20" y1="328.96" x2="534.50" y2="328.96" stroke-width="1.8"/>
<line x1="532.20" y1="322.04" x2="534.50" y2="322.04" stroke-width="1.8"/>
<line x1="532.20" y1="315.12" x2="534.50" y2="315.12" stroke-width="1.8"/>
<line x1="532.20" y1="308.20" x2="535.90" y2="308.20" stroke-width="2.4"/>
<line x1="532.20" y1="301.28" x2="534.50" y2="301.28" stroke-width="1.8"/>
<line x1="532.20" y1="294.36" x2="534.50" y2="294.36" stroke-width="1.8"/>
<line x1="532.20" y1="287.44" x2="534.50" y2="287.44" stroke-width="1.8"/>
<line x1="532.20" y1="280.52" x2="534.50" y2="280.52" stroke-width="1.8"/>
<line x1="532.20" y1="273.60" x2="535.90" y2="273.60" stroke-width="2.4"/>
<line x1="532.20" y1="266.68" x2="534.50" y2="266.68" stroke-width="1.8"/>
<line x1="532.20" y1="259.76" x2="534.50" y2="259.76" stroke-width="1.8"/>
<line x1="532.20" y1="252.84" x2="534.50" y2="252.84" stroke-width="1.8"/>
<line x1="532.20" y1="245.92" x2="534.50" y2="245.92" stroke-width="1.8"/>
<line x1="532.20" y1="239.00" x2="535.90" y2="239.00" stroke-width="2.4"/>
<line x1="532.20" y1="232.08" x2="534.50" y2="232.08" stroke-width="1.8"/>
<line x1="532.20" y1="225.16" x2="534.50" y2="225.16" stroke-width="1.8"/>
<line x1="532.20" y1="218.24" x2="534.50" y2="218.24" stroke-width="1.8"/>
<line x1="532.20" y1="211.32" x2="534.50" y2="211.32" stroke-width="1.8"/>
<line x1="532.20" y1="204.40" x2="535.90" y2="204.40" stroke-width="2.4"/>
<line x1="537.00" y1="351.00" x2="537.00" y2="348.70" stroke-width="1.8"/>
<line x1="548.50" y1="351.00" x2="548.50" y2="347.20" stroke-width="2.4"/>
<line x1="560.00" y1="351.00" x2="560.00" y2="348.70" stroke-width="1.8"/>
<line x1="571.50" y1="351.00" x2="571.50" y2="348.70" stroke-width="1.8"/>
<line x1="583.00" y1="351.00" x2="583.00" y2="348.70" stroke-width="1.8"/>
<line x1="594.50" y1="351.00" x2="594.50" y2="347.20" stroke-width="2.4"/>
<line x1="606.00" y1="351.00" x2="606.00" y2="348.70" stroke-width="1.8"/>
<line x1="617.50" y1="351.00" x2="617.50" y2="348.70" stroke-width="1.8"/>
<line x1="629.00" y1="351.00" x2="629.00" y2="348.70" stroke-width="1.8"/>
<line x1="640.50" y1="351.00" x2="640.50" y2="347.20" stroke-width="2.4"/>
<line x1="652.00" y1="351.00" x2="652.00" y2="348.70" stroke-width="1.8"/>
<line x1="663.50" y1="351.00" x2="663.50" y2="348.70" stroke-width="1.8"/>
<line x1="675.00" y1="351.00" x2="675.00" y2="348.70" stroke-width="1.8"/>
<line x1="686.50" y1="351.00" x2="686.50" y2="347.20" stroke-width="2.4"/>
<line x1="698.00" y1="351.00" x2="698.00" y2="348.70" stroke-width="1.8"/>
<line x1="709.50" y1="351.00" x2="709.50" y2="348.70" stroke-width="1.8"/>
<line x1="721.00" y1="351.00" x2="721.00" y2="348.70" stroke-width="1.8"/>
<line x1="732.50" y1="351.00" x2="732.50" y2="347.20" stroke-width="2.4"/>
<line x1="744.00" y1="351.00" x2="744.00" y2="348.70" stroke-width="1.8"/>
<line x1="755.50" y1="351.00" x2="755.50" y2="348.70" stroke-width="1.8"/>
<line x1="767.00" y1="351.00" x2="767.00" y2="348.70" stroke-width="1.8"/>
<line x1="778.50" y1="351.00" x2="778.50" y2="347.20" stroke-width="2.4"/>
</g>
<g stroke="#aaa" stroke-width="0.5">
<line x1="782.20" y1="342.80" x2="780.00" y2="342.80"/>
<line x1="782.20" y1="335.88" x2="781.00" y2="335.88"/>
<line x1="782.20" y1="328.96" x2="781.00" y2="328.96"/>
<line x1="782.20" y1="322.04" x2="781.00" y2="322.04"/>
<line x1="782.20" y1="315.12" x2="781.00" y2="315.12"/>
<line x1="782.20" y1="308.20" x2="780.00" y2="308.20"/>
<line x1="782.20" y1="301.28" x2="781.00" y2="301.28"/>
<line x1="782.20" y1="294.36" x2="781.00" y2="294.36"/>
<line x1="782.20" y1="287.44" x2="781.00" y2="287.44"/>
<line x1="782.20" y1="280.52" x2="781.00" y2="280.52"/>
<line x1="782.20" y1="273.60" x2="780.00" y2="273.60"/>
<line x1="782.20" y1="266.68" x2="781.00" y2="266.68"/>
<line x1="782.20" y1="259.76" x2="781.00" y2="259.76"/>
<line x1="782.20" y1="252.84" x2="781.00" y2="252.84"/>
<line x1="782.20" y1="245.92" x2="781.00" y2="245.92"/>
<line x1="782.20" y1="239.00" x2="780.00" y2="239.00"/>
<line x1="782.20" y1="232.08" x2="781.00" y2="232.08"/>
<line x1="782.20" y1="225.16" x2="781.00" y2="225.16"/>
<line x1="782.20" y1="218.24" x2="781.00" y2="218.24"/>
<line x1="782.20" y1="211.32" x2="781.00" y2="211.32"/>
<line x1="782.20" y1="204.40" x2="780.00" y2="204.40"/>
<line x1="537.00" y1="197.00" x2="537.00" y2="198.20"/>
<line x1="548.50" y1="197.00" x2="548.50" y2="199.20"/>
<line x1="560.00" y1="197.00" x2="560.00" y2="198.20"/>
<line x1="571.50" y1="197.00" x2="571.50" y2="198.20"/>
<line x1="583.00" y1="197.00" x2="583.00" y2="198.20"/>
<line x1="594.50" y1="197.00" x2="594.50" y2="199.20"/>
<line x1="606.00" y1="197.00" x2="606.00" y2="198.20"/>
<line x1="617.50" y1="197.00" x2="617.50" y2="198.20"/>
<line x1="629.00" y1="197.00" x2="629.00" y2="198.20"/>
<line x1="640.50" y1="197.00" x2="640.50" y2="199.20"/>
<line x1="652.00" y1="197.00" x2="652.00" y2="198.20"/>
<line x1="663.50" y1="197.00" x2="663.50" y2="198.20"/>
<line x1="675.00" y1="197.00" x2="675.00" y2="198.20"/>
<line x1="686.50" y1="197.00" x2="686.50" y2="199.20"/>
<line x1="698.00" y1="197.00" x2="698.00" y2="198.20"/>
<line x1="709.50" y1="197.00" x2="709.50" y2="198.20"/>
<line x1="721.00" y1="197.00" x2="721.00" y2="198.20"/>
<line x1="732.50" y1="197.00" x2="732.50" y2="199.20"/>
<line x1="744.00" y1="197.00" x2="744.00" y2="198.20"/>
<line x1="755.50" y1="197.00" x2="755.50" y2="198.20"/>
<line x1="767.00" y1="197.00" x2="767.00" y2="198.20"/>
<line x1="778.50" y1="197.00" x2="778.50" y2="199.20"/>
</g>
<g font-family="Liberation Sans, sans-serif" font-size="16.2" fill="#000" stroke="#000" stroke-width="0.2">
<text transform="translate(528.1,348.40) scale(1,0.9650)" text-anchor="end" textLength="45.6" lengthAdjust="spacingAndGlyphs">0.9750</text>
<text transform="translate(528.1,313.80) scale(1,0.9650)" text-anchor="end" textLength="45.6" lengthAdjust="spacingAndGlyphs">0.9755</text>
<text transform="translate(528.1,279.20) scale(1,0.9650)" text-anchor="end" textLength="45.6" lengthAdjust="spacingAndGlyphs">0.9760</text>
<text transform="translate(528.1,244.60) scale(1,0.9650)" text-anchor="end" textLength="45.6" lengthAdjust="spacingAndGlyphs">0.9765</text>
<text transform="translate(528.1,210.00) scale(1,0.9650)" text-anchor="end" textLength="45.6" lengthAdjust="spacingAndGlyphs">0.9770</text>
<text transform="translate(548.60,370.5) scale(0.905,0.9940)" text-anchor="middle">19.0</text>
<text transform="translate(594.60,370.5) scale(0.905,0.9940)" text-anchor="middle">19.2</text>
<text transform="translate(640.60,370.5) scale(0.905,0.9940)" text-anchor="middle">19.4</text>
<text transform="translate(686.60,370.5) scale(0.905,0.9940)" text-anchor="middle">19.6</text>
<text transform="translate(732.60,370.5) scale(0.905,0.9940)" text-anchor="middle">19.8</text>
<text transform="translate(778.60,370.5) scale(0.905,0.9940)" text-anchor="middle">20.0</text>
</g>
<g transform="translate(469.30,281.20) scale(0.4320,0.4700) translate(-26.6,-231.55)"><path fill="#000" stroke="#000" stroke-width="0.80" stroke-linejoin="miter" d="M3.28 223.5 L26.6 231.55 L26.6 228.8 L3.28 220.75 Z"/><rect fill="#000" stroke="#000" stroke-width="0.80" stroke-linejoin="miter" x="3.28" y="209.25" width="2.4" height="13.3"/><rect fill="#000" stroke="#000" stroke-width="0.80" stroke-linejoin="miter" x="12.1" y="213.1" width="2.6" height="12.9"/><rect fill="#000" stroke="#000" stroke-width="0.80" stroke-linejoin="miter" x="24.2" y="216.2" width="2.4" height="14.8"/><path fill="none" stroke="#000" stroke-width="2.40" stroke-linecap="round" d="M5.10 204.80 L0.50 204.80 M5.10 204.80 L3.68 200.43 M5.10 204.80 L8.82 202.10 M5.10 204.80 L8.82 207.50 M5.10 204.80 L3.68 209.17 "/></g>
<g font-family="Liberation Sans, sans-serif" fill="#000" font-style="italic">
<text transform="translate(642.2,398.7) scale(1.14,1)" font-size="15" stroke="#000" stroke-width="0.25">r</text>
<line x1="652.9" y1="387.6" x2="649.9" y2="399.3" stroke="#000" stroke-width="1.3"/>
<text transform="translate(654.9,398.7) scale(0.93,1)" font-size="16.4" stroke="#000" stroke-width="0.25">M</text>
<text transform="translate(666.2,401.9) scale(1.08,1)" font-size="11.6" stroke="#000" stroke-width="0.25">T</text>
</g>
</svg>
</body></html>
